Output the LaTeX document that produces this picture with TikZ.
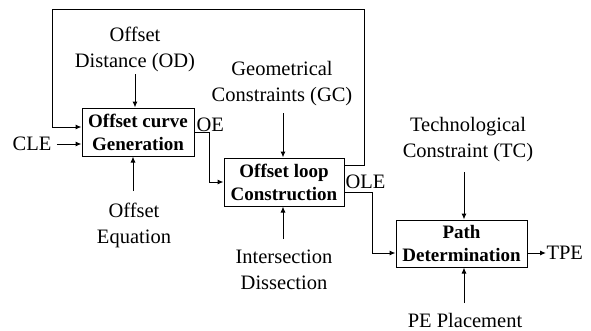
\documentclass[tikz,border=0pt]{standalone}
\usepackage{fontspec}
\setmainfont{Liberation Serif}
\usetikzlibrary{arrows.meta,calc}
\begin{document}
\begin{tikzpicture}[x=1pt,y=-1pt,
  line width=1pt,
  arr/.style={-{Latex[length=6pt,width=5pt]}},
  procbox/.style={draw,align=center,inner sep=0pt,
    font=\fontsize{19}{23}\selectfont\bfseries},
  lbl/.style={align=center,inner sep=0pt,font=\fontsize{20.5}{26}\selectfont},
]
\useasboundingbox (0,0) rectangle (591,330);

% process boxes
\node[procbox,minimum width=112pt,minimum height=48pt] (b1) at (138,132) {Offset curve\\Generation};
\node[procbox,minimum width=120pt,minimum height=48pt] (b2) at (284,182) {Offset loop\\Construction};
\node[procbox,minimum width=131pt,minimum height=47pt] (b3) at (461.5,243.5) {Path\\Determination};

% inputs and outputs
\node[lbl] (cle) at (32,144) {CLE};
\node[lbl] (od) at (135,49) {Offset\\Distance (OD)};
\node[lbl] (oeq) at (134,225) {Offset\\Equation};
\node[lbl,anchor=west] (oe) at (196,125) {OE};
\node[lbl] (gc) at (282,84) {Geometrical\\Constraints (GC)};
\node[lbl] (id) at (284,270) {Intersection\\Dissection};
\node[lbl,anchor=west] (ole) at (345,182) {OLE};
\node[lbl] (tc) at (468,140) {Technological\\Constraint (TC)};
\node[lbl] (pe) at (465,320) {PE Placement};
\node[lbl,anchor=west] (tpe) at (546,253) {TPE};

% feedback loop from the loop construction back to curve generation
\coordinate (fbr) at (364,9);
\coordinate (fbl) at (52,9);
\draw[arr] ($(b2.north east)+(0,8)$) -| (fbr) -- (fbl) |- ($(b1.west)+(0,-5)$);

% input arrows
\draw[arr] (cle.east)+(5,0) -- ($(b1.west)+(0,12)$);
\draw[arr] (135,74) -- (b1.north -| 135,0);
\draw[arr] (133,191) -- (b1.south -| 133,0);
\draw[arr] (283,113) -- (b2.north -| 283,0);
\draw[arr] (283,239) -- (b2.south -| 283,0);
\draw[arr] (464,172) -- (b3.north -| 464,0);
\draw[arr] (464,303) -- (b3.south -| 464,0);

% flow between boxes
\draw[arr] (b1.east) -- ++(15,0) |- (b2.west);
\draw[arr] ($(b2.east)+(0,10)$) -- ++(28,0) |- ($(b3.west)+(0,9.5)$);
\draw[arr] ($(b3.east)+(0,9.5)$) -- (tpe.west);
\end{tikzpicture}
\end{document}
